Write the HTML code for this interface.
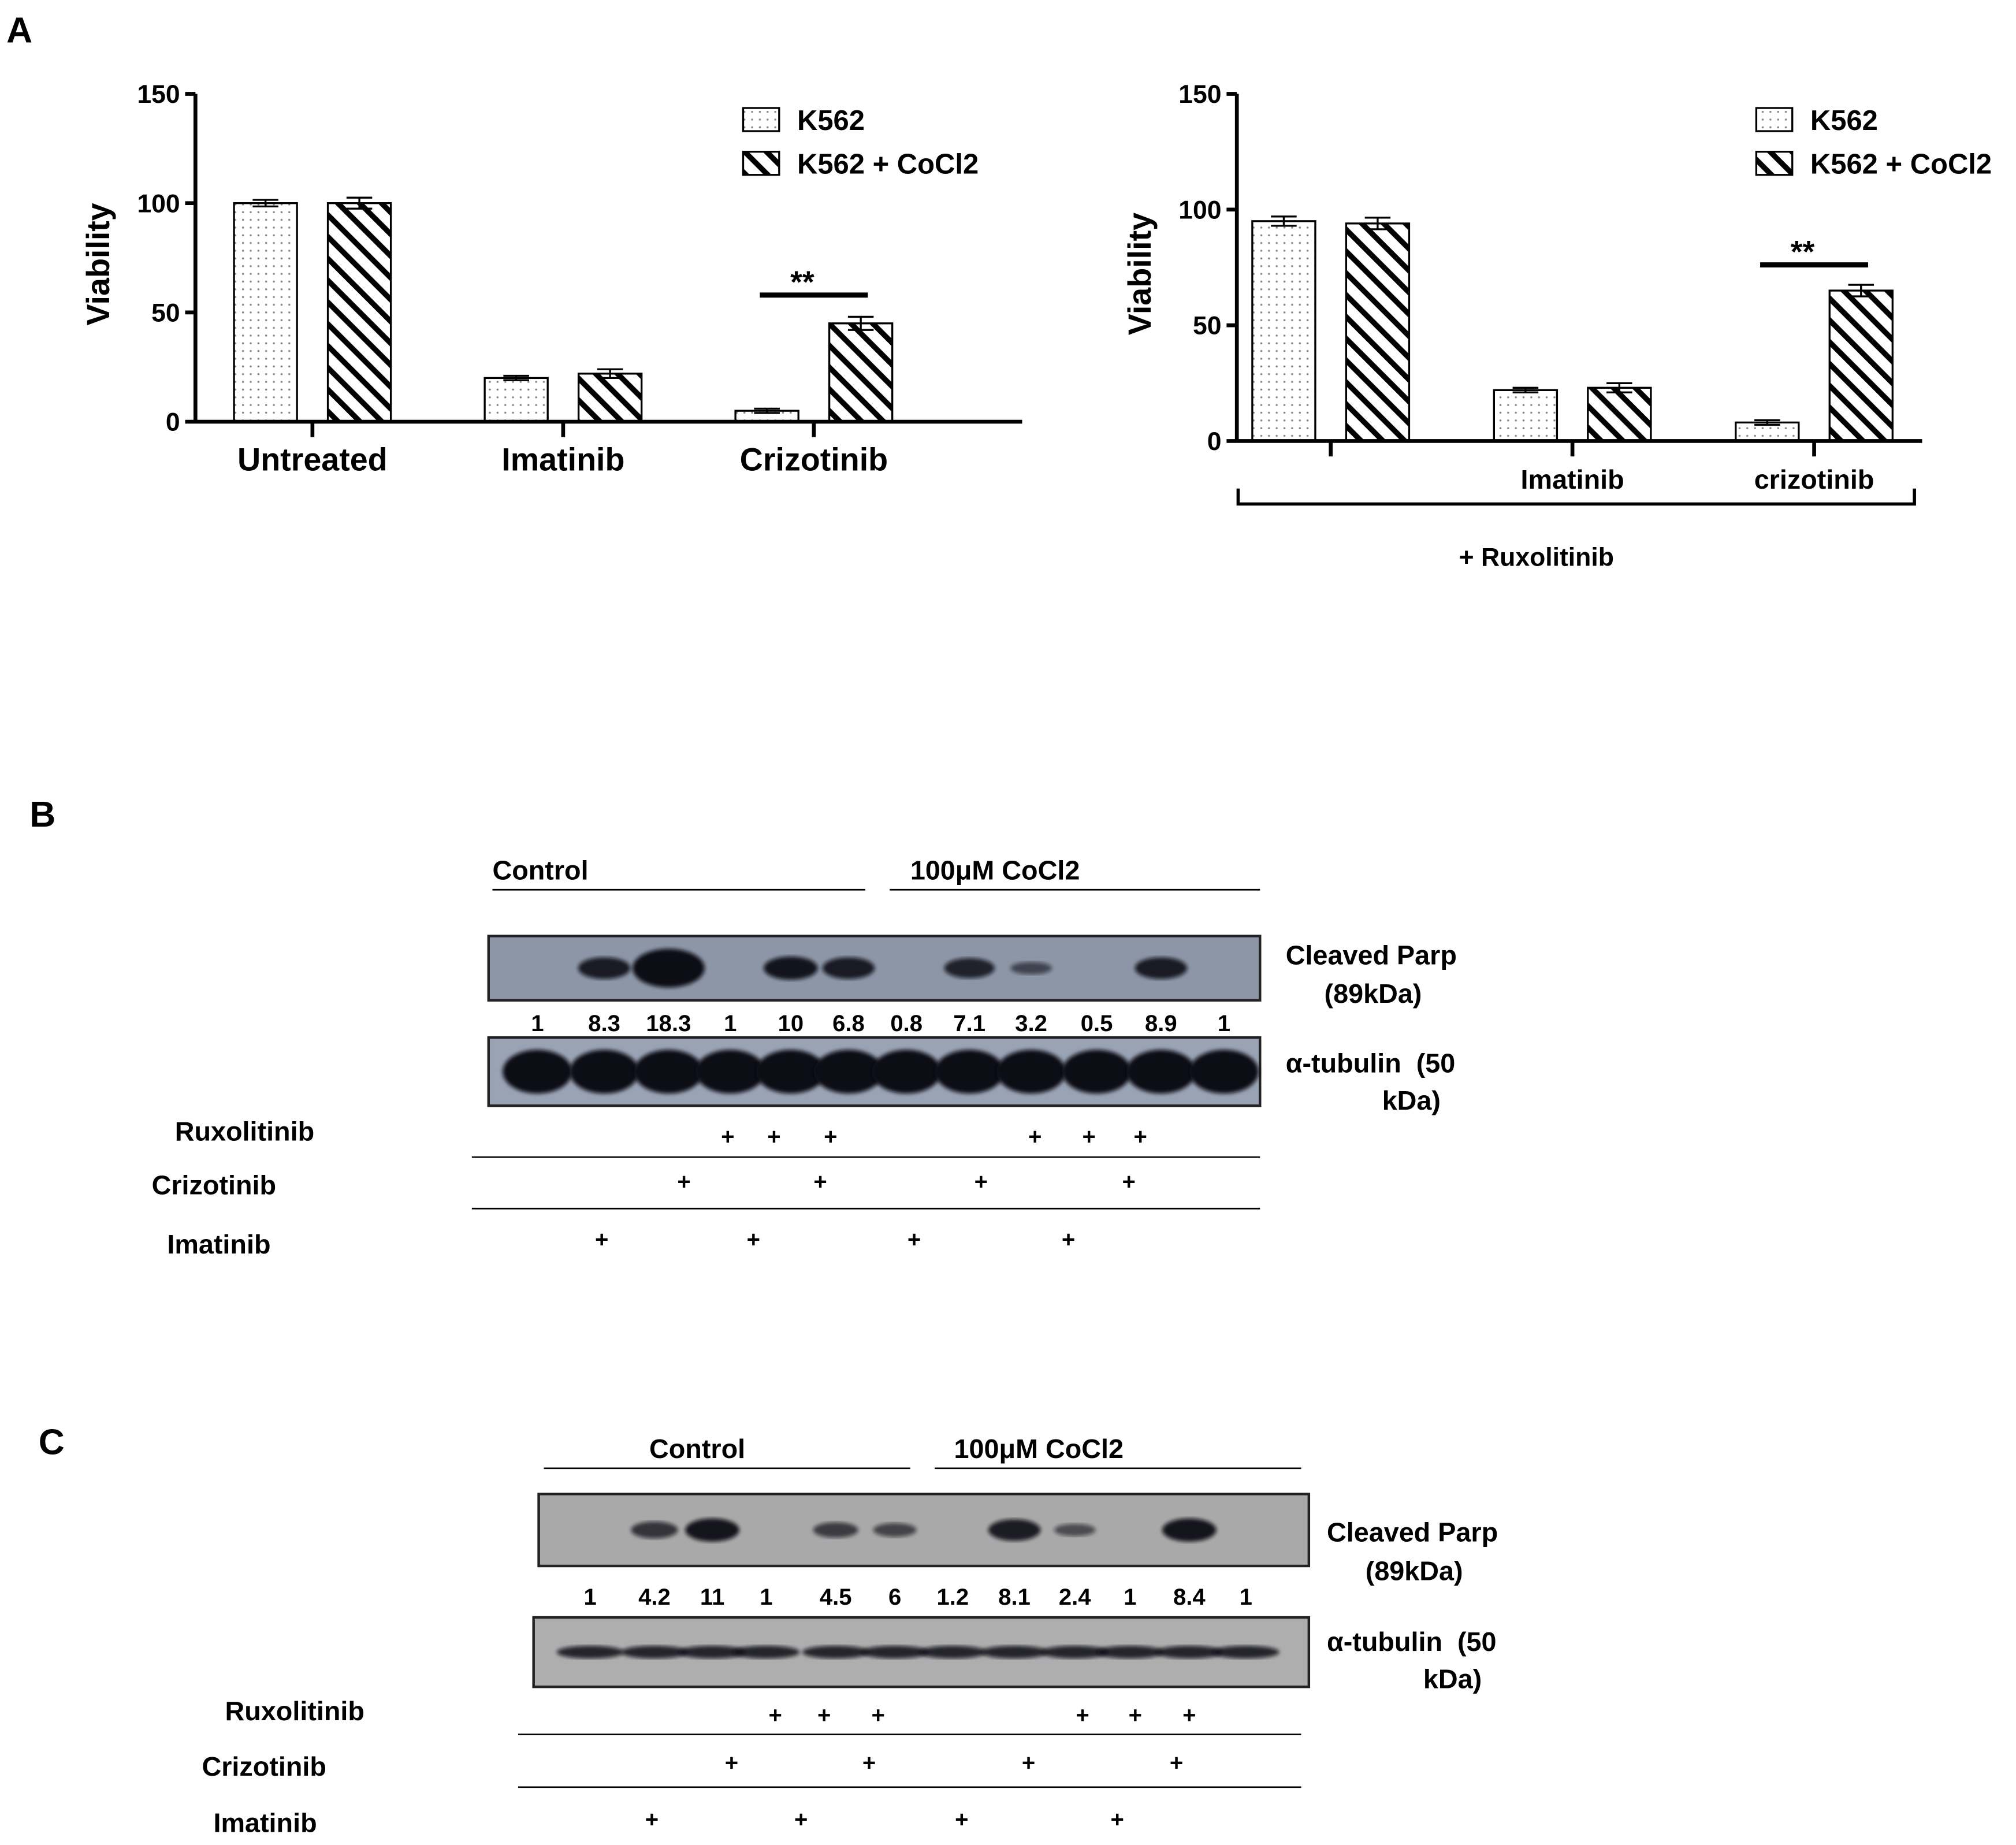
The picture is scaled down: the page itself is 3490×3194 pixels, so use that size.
<!DOCTYPE html>
<html><head><meta charset="utf-8"><style>
html,body{margin:0;padding:0;background:#fff}
svg{display:block;font-family:"Liberation Sans",Arial,sans-serif;font-weight:bold}
text{white-space:pre}
</style></head><body>
<svg id="fig" width="3490" height="3194" viewBox="0 0 1568 1435" xmlns="http://www.w3.org/2000/svg">
<defs>
<pattern id="dots" width="6" height="6" patternUnits="userSpaceOnUse"><rect width="6" height="6" fill="#fff"/><circle cx="3" cy="3" r="0.8" fill="#888"/></pattern>
<pattern id="stripes" width="12" height="12" patternUnits="userSpaceOnUse" patternTransform="rotate(-45)"><rect width="12" height="12" fill="#fff"/><rect x="0" y="0" width="4.2" height="12" fill="#000"/></pattern>
<filter id="blur1"><feGaussianBlur stdDeviation="1.5"/></filter>
</defs>
<text x="5" y="33" font-size="28">A</text>
<g id="chart1"></g>
<g id="chart2"></g>
<g id="blotB"></g>
<g id="blotC"></g>
</svg>
<script>
const NS="http://www.w3.org/2000/svg";
function mk(parent,tag,attrs,text){const e=document.createElementNS(NS,tag);for(const k in attrs)e.setAttribute(k,attrs[k]);if(text!==undefined)e.textContent=text;parent.appendChild(e);return e;}

// ---- Chart data ----
const categories1=["Untreated","Imatinib","Crizotinib"];
const k562Values1=[100,20,5];
const cocl2Values1=[100,22,45];
const k562Err1=[1.5,1,1];
const cocl2Err1=[2.5,2,3];
const categories2=["","Imatinib","crizotinib"];
const k562Values2=[95,22,8];
const cocl2Values2=[94,23,65];
const k562Err2=[2,1,1];
const cocl2Err2=[2.5,2,2.5];
const yTicks=[0,50,100,150];
const seriesNames=["K562","K562 + CoCl2"];

function drawChart(g,cfg,cats,v1,v2,e1,e2,sigIdx){
  const y=v=>cfg.y0-(v/150)*(cfg.y0-cfg.y150);
  const cx=i=>cfg.c0+i*cfg.step;
  const ya=mk(g,'line',{x1:cfg.x0,y1:cfg.y150,x2:cfg.x0,y2:cfg.y0+1,stroke:'#000','stroke-width':3});
  
  yTicks.forEach(t=>{
    mk(g,'line',{x1:cfg.x0-8,y1:y(t),x2:cfg.x0,y2:y(t),stroke:'#000','stroke-width':3});
    const tl=mk(g,'text',{x:cfg.x0-12,y:y(t)+7,'font-size':20,'text-anchor':'end'},t);
    
  });
  const yt=mk(g,'text',{x:0,y:0,'font-size':25,'text-anchor':'middle',transform:`translate(${cfg.x0-67},${(cfg.y0+cfg.y150)/2+5}) rotate(-90)`},'Viability');
  
  for(let i=0;i<cats.length;i++){
    const c=cx(i);
    [[v1,e1,'url(#dots)',-61],[v2,e2,'url(#stripes)',12]].forEach(([vals,errs,fill,off],s)=>{
      const b=mk(g,'rect',{x:c+off,y:y(vals[i]),width:49,height:y(0)-y(vals[i]),fill:fill,stroke:'#000','stroke-width':1.5});
      
      const bx=c+off+24.5;
      mk(g,'line',{x1:bx,y1:y(vals[i]+errs[i]),x2:bx,y2:y(vals[i]-errs[i]),stroke:'#000','stroke-width':1.5});
      mk(g,'line',{x1:bx-10,y1:y(vals[i]+errs[i]),x2:bx+10,y2:y(vals[i]+errs[i]),stroke:'#000','stroke-width':1.5});
      mk(g,'line',{x1:bx-10,y1:y(vals[i]-errs[i]),x2:bx+10,y2:y(vals[i]-errs[i]),stroke:'#000','stroke-width':1.5});
    });
    mk(g,'line',{x1:c,y1:cfg.y0,x2:c,y2:cfg.y0+12,stroke:'#000','stroke-width':3});
    if(cats[i]){const l=mk(g,'text',{x:c,y:cfg.labY,'font-size':cfg.labSize,'text-anchor':'middle'},cats[i]);
      }
  }
  const xa=mk(g,'line',{x1:cfg.x0,y1:cfg.y0,x2:cfg.xEnd,y2:cfg.y0,stroke:'#000','stroke-width':3});
  
  const c=cx(sigIdx);
  const sy=y(Math.max(v1[sigIdx],v2[sigIdx]))-cfg.sigGap;
  const sl=mk(g,'line',{x1:c-42,y1:sy,x2:c+42,y2:sy,stroke:'#000','stroke-width':4});
  
  const st=mk(g,'text',{x:c-9,y:sy-2,'font-size':24,'text-anchor':'middle'},'**');
  
  seriesNames.forEach((n,j)=>{
    const lg=mk(g,'g',{});
    
    mk(lg,'rect',{x:cfg.legX,y:84+j*34,width:28,height:18,fill:j?'url(#stripes)':'url(#dots)',stroke:'#000','stroke-width':1.5});
    mk(lg,'text',{x:cfg.legX+42,y:101+j*34,'font-size':22},n);
  });
  return {y,cx};
}
drawChart(document.getElementById('chart1'),{x0:152,y0:328,y150:73,c0:243,step:195,xEnd:795,labY:366,labSize:25,legX:578,sigGap:22},categories1,k562Values1,cocl2Values1,k562Err1,cocl2Err1,2);
drawChart(document.getElementById('chart2'),{x0:962,y0:343,y150:73,c0:1035,step:188,xEnd:1495,labY:380,labSize:21,legX:1366,sigGap:20},categories2,k562Values2,cocl2Values2,k562Err2,cocl2Err2,2);
(function(){const g=document.getElementById('chart2');
 const br=mk(g,'path',{d:'M963 380 V392 H1489 V380',fill:'none',stroke:'#000','stroke-width':2.5});
 
 const t=mk(g,'text',{x:1195,y:440,'font-size':20,'text-anchor':'middle'},'+ Ruxolitinib');
 })();

// ---- Blots ----
const quantB=["1","8.3","18.3","1","10","6.8","0.8","7.1","3.2","0.5","8.9","1"];
const quantC=["1","4.2","11","1","4.5","6","1.2","8.1","2.4","1","8.4","1"];
const parpB=[0,0.45,1,0,0.5,0.45,0,0.4,0.15,0,0.45,0];
const parpC=[0,0.3,0.5,0,0.25,0.2,0,0.45,0.15,0,0.5,0];

function drawBlot(g,o){
  const L=mk(g,'text',{x:o.letterX,y:o.letterY,'font-size':28},o.letter);
  
  const t1=mk(g,'text',{x:o.ctrlX,y:o.hdrY,'font-size':21},'Control');
  
  mk(g,'line',{x1:o.ctrlL1,y1:o.hdrY+8,x2:o.ctrlL2,y2:o.hdrY+8,stroke:'#000','stroke-width':1.2});
  const t2=mk(g,'text',{x:o.cocX,y:o.hdrY,'font-size':21},'100μM CoCl2');
  
  mk(g,'line',{x1:o.cocL1,y1:o.hdrY+8,x2:o.cocL2,y2:o.hdrY+8,stroke:'#000','stroke-width':1.2});
  const b1=mk(g,'rect',{x:o.b1x,y:o.b1y,width:o.b1w,height:o.b1h,fill:o.bg1,stroke:'#222','stroke-width':2});
  
  o.lanes.forEach((x,i)=>{const v=o.parp[i];if(v>0){
    mk(g,'ellipse',{cx:x,cy:o.b1y+o.b1h*0.5,rx:14+v*14,ry:3+v*12,fill:'#0a0a12',opacity:Math.min(1,0.45+v),filter:'url(#blur1)'});}});
  o.lanes.forEach((x,i)=>{const t=mk(g,'text',{x:x,y:o.numY,'font-size':18,'text-anchor':'middle'},o.quant[i]);
    });
  const b2=mk(g,'rect',{x:o.b2x,y:o.b2y,width:o.b2w,height:o.b2h,fill:o.bg2,stroke:'#222','stroke-width':2});
  
  o.lanes.forEach((x,i)=>{mk(g,'ellipse',{cx:x,cy:o.b2y+o.b2h*0.5,rx:o.tubRx,ry:o.tubRy,fill:'#0a0a12',opacity:o.tubOp,filter:'url(#blur1)'});});
  [['Cleaved Parp',o.lblX,o.lbl1Y],['(89kDa)',o.lblX+30,o.lbl1Y+30],['α-tubulin  (50',o.lblX,o.lbl2Y],['kDa)',o.lblX+75,o.lbl2Y+29]].forEach(([s,x,y])=>{
    const t=mk(g,'text',{x:x,y:y,'font-size':21},s);});
  o.rows.forEach((r)=>{
    const t=mk(g,'text',{x:r.lx,y:r.ly,'font-size':21},r.name);
    
    r.plus.forEach(px=>{const p=mk(g,'text',{x:px,y:r.py,'font-size':18,'text-anchor':'middle'},'+');
      });
    if(r.line)mk(g,'line',{x1:o.rowL1,y1:r.line,x2:o.rowL2,y2:r.line,stroke:'#000','stroke-width':1.2});
  });
}
drawBlot(document.getElementById('blotB'),{letter:'B',letterX:23,letterY:643,ctrlX:383,cocX:708,hdrY:684,ctrlL1:383,ctrlL2:673,cocL1:692,cocL2:980,
 b1x:380,b1y:728,b1w:600,b1h:50,bg1:'#8c96a6',b2x:380,b2y:807,b2w:600,b2h:53,bg2:'#9aa3b4',
 lanes:[418,470,520,568,615,660,705,754,802,853,903,952],parp:parpB,quant:quantB,numY:802,tubRx:27,tubRy:17,tubOp:1,
 lblX:1000,lbl1Y:750,lbl2Y:834,rowL1:367,rowL2:980,
 rows:[{name:'Ruxolitinib',lx:136,ly:887,py:890,plus:[566,602,646,805,847,887],line:900},
       {name:'Crizotinib',lx:118,ly:929,py:925,plus:[532,638,763,878],line:940},
       {name:'Imatinib',lx:130,ly:975,py:970,plus:[468,586,711,831]}]});
drawBlot(document.getElementById('blotC'),{letter:'C',letterX:30,letterY:1131,ctrlX:505,cocX:742,hdrY:1134,ctrlL1:423,ctrlL2:708,cocL1:727,cocL2:1012,
 b1x:419,b1y:1162,b1w:599,b1h:56,bg1:'#a9a9a9',b2x:415,b2y:1258,b2w:603,b2h:54,bg2:'#aeaeae',
 lanes:[459,509,554,596,650,696,741,789,836,879,925,969],parp:parpC,quant:quantC,numY:1248,tubRx:26,tubRy:5,tubOp:0.85,
 lblX:1032,lbl1Y:1199,lbl2Y:1284,rowL1:403,rowL2:1012,
 rows:[{name:'Ruxolitinib',lx:175,ly:1338,py:1340,plus:[603,641,683,842,883,925],line:1349},
       {name:'Crizotinib',lx:157,ly:1381,py:1377,plus:[569,676,800,915],line:1390},
       {name:'Imatinib',lx:166,ly:1425,py:1421,plus:[507,623,748,869]}]});
</script>
</body></html>
